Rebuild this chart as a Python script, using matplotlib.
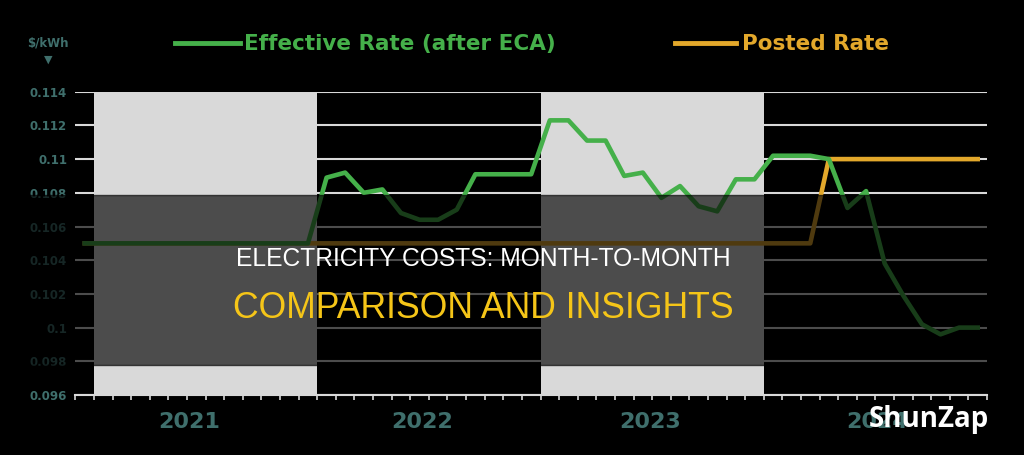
import matplotlib
matplotlib.use("Agg")
import matplotlib.pyplot as plt
import matplotlib.patches as mpatches
from matplotlib.ticker import FuncFormatter

# monthly values, Dec 2020 .. Dec 2024 ($/kWh)
effective_rate = [0.105] * 13 + [
    0.1089, 0.1092, 0.1080, 0.1082, 0.1068, 0.1064, 0.1064, 0.1070, 0.1091, 0.1091, 0.1091, 0.1091,
    0.1123, 0.1123, 0.1111, 0.1111, 0.1090, 0.1092, 0.1077, 0.1084, 0.1072, 0.1069, 0.1088, 0.1088,
    0.1102, 0.1102, 0.1102, 0.1100, 0.1071, 0.1081, 0.1038, 0.1019, 0.1002, 0.0996, 0.1000, 0.1000,
]
posted_rate = [0.105] * 40 + [0.110] * 9
years = ["2021", "2022", "2023", "2024"]
year_label_pos = [5.1, 17.65, 29.9, 42.1]
shaded_years = [0, 24]  # month offsets of the light bands (2021, 2023)
y_ticks = [0.096, 0.098, 0.1, 0.102, 0.104, 0.106, 0.108, 0.11, 0.112, 0.114]

GREEN = "#45b04a"
GOLD = "#e3a82b"
TEAL = "#3f6f6c"
LIGHT = "#d9d9d9"

months = [i - 0.5 for i in range(len(effective_rate))]

fig = plt.figure(figsize=(10.24, 4.55), dpi=100, facecolor="black")
ax = fig.add_axes([75.4 / 1024, 60 / 455, (987 - 75.4) / 1024, (395 - 91.7) / 455])
ax.set_facecolor("black")

for start in shaded_years:
    ax.axvspan(start, start + 12, color=LIGHT, zorder=1, lw=0)

ax.plot(months, posted_rate, color=GOLD, lw=3.3, zorder=3, solid_joinstyle="round")
ax.plot(months, effective_rate, color=GREEN, lw=3.3, zorder=4, solid_joinstyle="round")

ax.set_xlim(-1, 48)
ax.set_ylim(0.096, 0.114)
ax.set_yticks(y_ticks)
ax.yaxis.set_major_formatter(FuncFormatter(lambda v, p: f"{v:g}"))
ax.set_xticks(range(-1, 49))
ax.set_xticklabels([])
ax.grid(axis="y", color=LIGHT, lw=1.5, zorder=0)
ax.set_axisbelow(True)
for s in ["top", "right", "left"]:
    ax.spines[s].set_visible(False)
ax.spines["bottom"].set_color(LIGHT)
ax.spines["bottom"].set_linewidth(1.5)
ax.tick_params(axis="y", length=0, pad=6, labelcolor=TEAL, labelsize=8.5)
ax.tick_params(axis="x", length=3.5, width=1.2, color=LIGHT)
for lbl in ax.get_yticklabels():
    lbl.set_fontweight("bold")

for name, xpos in zip(years, year_label_pos):
    ax.text(xpos, -0.09, name, transform=ax.get_xaxis_transform(), ha="center", va="center",
            color=TEAL, fontsize=16, fontweight="bold")

# legend and unit label along the top
fig.text(48 / 1024, 1 - 43 / 455, "$/kWh", color=TEAL, fontsize=8.5, fontweight="bold",
         ha="center", va="center")
fig.text(48 / 1024, 1 - 60 / 455, "\u25bc", color=TEAL, fontsize=8, ha="center", va="center")
fig.lines.append(plt.Line2D([175 / 1024, 240 / 1024], [1 - 43 / 455] * 2, color=GREEN, lw=3.5,
                            transform=fig.transFigure))
fig.text(244 / 1024, 1 - 44 / 455, "Effective Rate (after ECA)", color=GREEN, fontsize=15.5,
         fontweight="bold", ha="left", va="center")
fig.lines.append(plt.Line2D([675 / 1024, 736 / 1024], [1 - 43 / 455] * 2, color=GOLD, lw=3.5,
                            transform=fig.transFigure))
fig.text(742 / 1024, 1 - 44 / 455, "Posted Rate", color=GOLD, fontsize=15.5,
         fontweight="bold", ha="left", va="center")

# dark banner with the title
fig.patches.append(mpatches.Rectangle((0, 90 / 455), 1, 170 / 455, transform=fig.transFigure,
                                      color="black", alpha=0.65, zorder=10))
fig.text(483 / 1024, 1 - 259 / 455, "ELECTRICITY COSTS: MONTH-TO-MONTH", color="white",
         fontsize=17.7, family="Liberation Sans", ha="center", va="center", zorder=11)
fig.text(483 / 1024, 1 - 309 / 455, "COMPARISON AND INSIGHTS", color="#f5c518",
         fontsize=25.7, family="Liberation Sans", ha="center", va="center", zorder=11)

fig.text(929 / 1024, 1 - 420 / 455, "ShunZap", color="white", fontsize=20, fontweight="bold",
         family="Open Sans", ha="center", va="center", zorder=11)

fig.savefig("out.png", dpi=100, facecolor="black")
